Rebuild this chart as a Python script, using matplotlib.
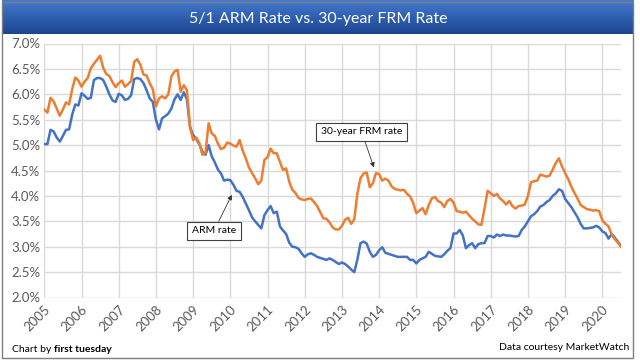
import numpy as np
import matplotlib
matplotlib.use("Agg")
import matplotlib.pyplot as plt
from matplotlib.patches import Rectangle
from matplotlib.colors import LinearSegmentedColormap

plt.rcParams['font.family'] = ['Lato', 'DejaVu Sans']

# Monthly data, Jan 2005 - Jul 2020
frm = [
    5.70, 5.64, 5.93, 5.86, 5.72, 5.58, 5.70, 5.84, 5.80, 6.10, 6.33, 6.27,  # 2005
    6.15, 6.25, 6.32, 6.51, 6.60, 6.68, 6.76, 6.52, 6.40, 6.36, 6.24, 6.14,  # 2006
    6.22, 6.27, 6.15, 6.20, 6.26, 6.64, 6.69, 6.58, 6.39, 6.37, 6.22, 6.10,  # 2007
    5.76, 5.92, 5.96, 5.92, 6.00, 6.35, 6.45, 6.48, 6.05, 6.18, 6.08, 5.36,  # 2008
    5.10, 5.15, 5.04, 4.81, 4.85, 5.43, 5.23, 5.18, 5.03, 4.92, 4.95, 5.05,  # 2009
    5.03, 4.99, 4.97, 5.10, 4.89, 4.74, 4.56, 4.45, 4.35, 4.23, 4.30, 4.71,  # 2010
    4.76, 4.93, 4.84, 4.84, 4.67, 4.51, 4.54, 4.28, 4.12, 4.06, 3.96, 3.93,  # 2011
    3.92, 3.94, 3.95, 3.88, 3.80, 3.68, 3.56, 3.55, 3.48, 3.38, 3.34, 3.34,  # 2012
    3.41, 3.53, 3.57, 3.45, 3.54, 4.05, 4.35, 4.44, 4.46, 4.17, 4.25, 4.45,  # 2013
    4.43, 4.30, 4.34, 4.30, 4.19, 4.14, 4.12, 4.11, 4.12, 4.04, 3.99, 3.86,  # 2014
    3.66, 3.71, 3.76, 3.64, 3.82, 3.95, 3.98, 3.90, 3.87, 3.78, 3.90, 3.94,  # 2015
    3.87, 3.70, 3.69, 3.67, 3.69, 3.62, 3.55, 3.50, 3.44, 3.43, 3.75, 4.10,  # 2016
    4.05, 4.00, 4.04, 3.95, 3.90, 3.83, 3.90, 3.80, 3.75, 3.80, 3.81, 3.83,  # 2017
    4.00, 4.27, 4.29, 4.30, 4.42, 4.40, 4.38, 4.40, 4.52, 4.65, 4.74, 4.58,  # 2018
    4.45, 4.33, 4.18, 4.06, 3.95, 3.82, 3.78, 3.74, 3.73, 3.71, 3.72, 3.70,  # 2019
    3.52, 3.45, 3.40, 3.24, 3.15, 3.08, 3.00,                                # 2020
]
arm = [
    5.02, 5.02, 5.30, 5.27, 5.15, 5.07, 5.18, 5.30, 5.31, 5.60, 5.80, 5.78,  # 2005
    6.02, 5.97, 5.91, 5.93, 6.28, 6.32, 6.32, 6.28, 6.15, 6.00, 5.88, 5.85,  # 2006
    6.01, 5.98, 5.89, 5.91, 5.98, 6.30, 6.32, 6.30, 6.22, 6.08, 5.92, 5.85,  # 2007
    5.50, 5.31, 5.53, 5.57, 5.62, 5.72, 5.90, 6.00, 5.89, 6.04, 5.90, 5.36,  # 2008
    5.20, 5.12, 5.02, 4.87, 4.81, 5.00, 4.78, 4.66, 4.52, 4.44, 4.30, 4.32,  # 2009
    4.31, 4.22, 4.10, 4.08, 3.98, 3.85, 3.72, 3.58, 3.50, 3.43, 3.36, 3.62,  # 2010
    3.72, 3.80, 3.66, 3.69, 3.40, 3.32, 3.25, 3.08, 3.00, 2.99, 2.96, 2.87,  # 2011
    2.80, 2.85, 2.87, 2.84, 2.80, 2.78, 2.76, 2.74, 2.77, 2.74, 2.70, 2.66,  # 2012
    2.69, 2.66, 2.61, 2.55, 2.50, 2.75, 3.07, 3.10, 3.06, 2.90, 2.80, 2.84,  # 2013
    2.93, 2.99, 2.88, 2.86, 2.84, 2.82, 2.80, 2.80, 2.80, 2.80, 2.74, 2.74,  # 2014
    2.67, 2.74, 2.77, 2.80, 2.90, 2.86, 2.82, 2.81, 2.80, 2.85, 2.92, 2.97,  # 2015
    3.26, 3.26, 3.33, 3.22, 2.97, 3.03, 3.07, 2.97, 3.05, 3.07, 3.07, 3.21,  # 2016
    3.21, 3.18, 3.24, 3.21, 3.24, 3.22, 3.22, 3.21, 3.20, 3.21, 3.33, 3.40,  # 2017
    3.50, 3.60, 3.64, 3.70, 3.79, 3.82, 3.88, 3.92, 4.00, 4.05, 4.13, 4.10,  # 2018
    3.94, 3.86, 3.78, 3.68, 3.58, 3.45, 3.36, 3.36, 3.37, 3.38, 3.41, 3.38,  # 2019
    3.30, 3.27, 3.16, 3.25, 3.18, 3.10, 3.02,                                # 2020
]
start_year = 2005
years = list(range(2005, 2021))
y_ticks = [2.0, 2.5, 3.0, 3.5, 4.0, 4.5, 5.0, 5.5, 6.0, 6.5, 7.0]

t = start_year + np.arange(len(frm)) / 12.0

W, H = 640, 360
fig = plt.figure(figsize=(W / 100, H / 100), dpi=100)

# Outer border
fig.patches.append(Rectangle((2 / W, 2 / H), 631 / W, 356 / H, transform=fig.transFigure,
                             fill=False, edgecolor='#7f7f7f', linewidth=1.0))

# Title banner with gradient
bax = fig.add_axes([2 / W, 1 - 34 / H, 632 / W, 34 / H])
grad = np.linspace(0, 1, 64).reshape(-1, 1)
cmap = LinearSegmentedColormap.from_list('ban', ['#4479cf', '#2f5fb0', '#1d4690'])
bax.imshow(grad, aspect='auto', cmap=cmap, extent=[0, 1, 0, 1])
bax.set_axis_off()
bax.text(0.5, 0.44, '5/1 ARM Rate vs. 30-year FRM Rate', color='white', fontsize=11.5,
         ha='center', va='center', transform=bax.transAxes)

ax = fig.add_axes([44.3 / W, (H - 297.5) / H, (621.3 - 44.3) / W, (297.5 - 43.5) / H])
ax.plot(t, arm, color='#4472C4', linewidth=1.8, solid_joinstyle='round')
ax.plot(t, frm, color='#ED7D31', linewidth=1.8, solid_joinstyle='round')

ax.set_xlim(2005, 2020.51)
ax.set_ylim(2.0, 7.0)
ax.set_xticks(years)
ax.set_xticklabels([str(y) for y in years], rotation=45, ha='right', va='top',
                   rotation_mode='anchor', fontsize=9.5, color='#595959')
ax.set_yticks(y_ticks)
ax.set_yticklabels([f'{v:.1f}%' for v in y_ticks], fontsize=9.5, color='#595959')
ax.tick_params(length=0, pad=3)
ax.tick_params(axis='x', pad=4)
ax.grid(True, color='#d9d9d9', linewidth=1.0)
ax.set_axisbelow(True)
for s in ax.spines.values():
    s.set_visible(False)

arrow = dict(arrowstyle='-|>', color='#333333', lw=0.6, mutation_scale=7, shrinkA=0, shrinkB=0)
box = dict(boxstyle='square,pad=0.45', facecolor='white', edgecolor='#404040', linewidth=0.8)
ax.annotate('ARM rate', xy=(2010.04, 4.02), xytext=(2009.56, 3.31), fontsize=7.5,
            ha='center', va='center', bbox=box, arrowprops=arrow, color='black')
ax.annotate('30-year FRM rate', xy=(2013.86, 4.56), xytext=(2013.53, 5.26), fontsize=7.5,
            ha='center', va='center', bbox=box, arrowprops=arrow, color='black')

t1 = fig.text(12 / W, 1 - 349 / H, 'Chart by', fontsize=7.5, ha='left', va='center', color='black')
fig.canvas.draw()
bb = t1.get_window_extent(renderer=fig.canvas.get_renderer())
fig.text((bb.x1 + 3) / W, 1 - 349 / H, 'first tuesday', fontsize=7.5, ha='left', va='center',
         color='black', fontweight='bold')
fig.text(629 / W, 1 - 347 / H, 'Data courtesy MarketWatch', fontsize=7.5, ha='right',
         va='center', color='black')

fig.savefig('out.png', dpi=100)
